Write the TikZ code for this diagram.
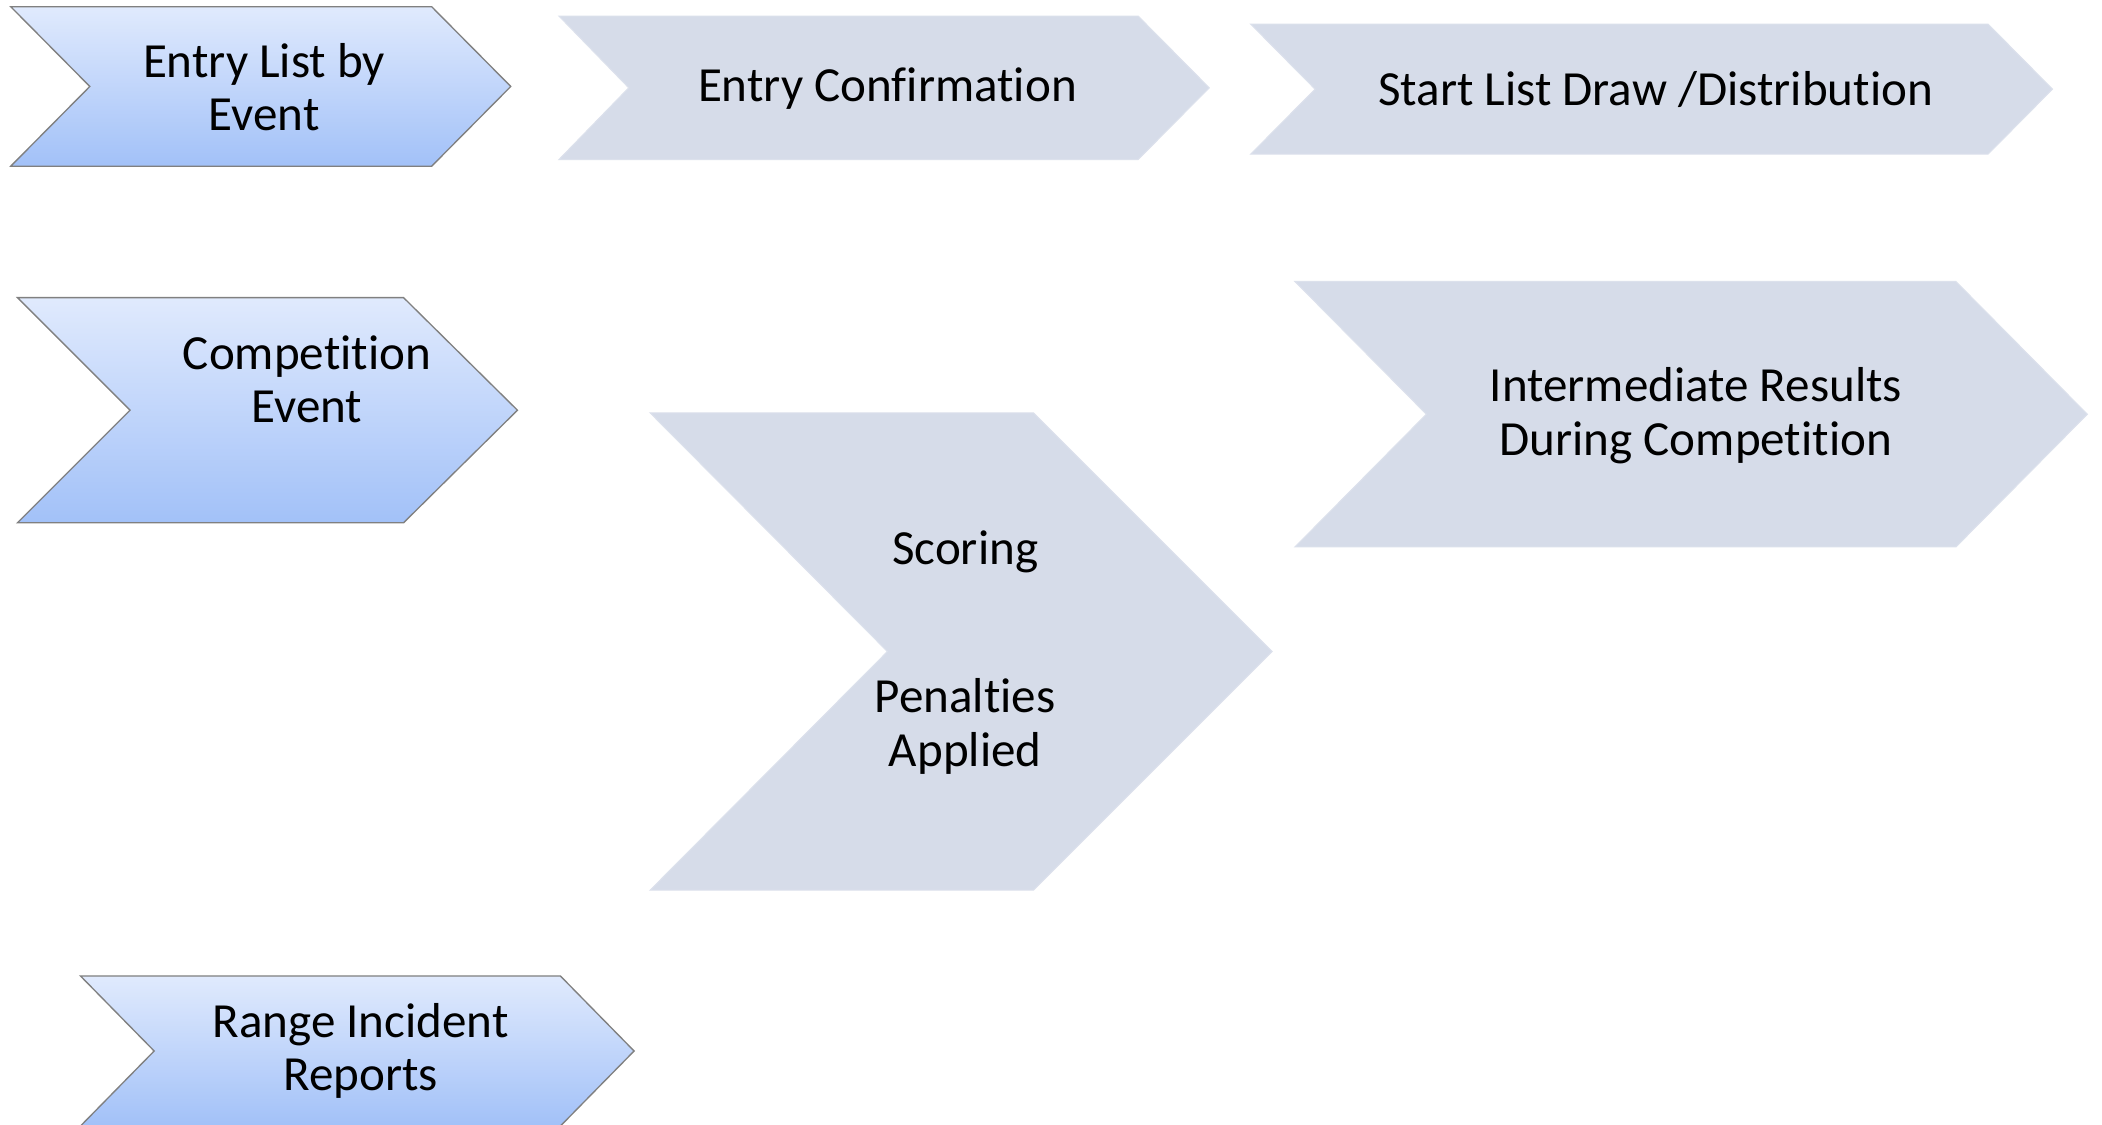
\documentclass[tikz,border=0pt]{standalone}
\usepackage{fontspec}
\setmainfont{Carlito}[RawFeature={-liga;-clig;-calt;-dlig}]
\begin{document}
\begin{tikzpicture}[x=1pt,y=-1pt,
  bluechev/.style={top color=blueTop,bottom color=blueBot,draw=borderGray,line width=1pt,line join=miter},
  graychev/.style={fill=grayFill,draw=grayEdge,line width=0.8pt},
  lbl/.style={inner sep=0pt,align=center,text=black,yshift=-2pt,font=\fontsize{36.6}{40}\selectfont}]
\definecolor{blueTop}{HTML}{E0EAFD}
\definecolor{blueBot}{HTML}{A2C1F8}
\definecolor{borderGray}{HTML}{808080}
\definecolor{grayFill}{HTML}{D6DCE9}
\definecolor{grayEdge}{HTML}{DCE1EC}
\useasboundingbox (0,0) rectangle (1568,839.2);
\clip (0,0) rectangle (1568,839.2);
\fill[white] (0,0) rectangle (1568,839.2);
% Entry List by Event
\path[bluechev] (8,5) -- (322,5) -- (381,64.5) -- (322,124) -- (8,124) -- (67,64.5) -- cycle;
\node[lbl] (entrylist) at (197,63) {Entry List by\\Event};
% Entry Confirmation
\path[graychev] (417,12) -- (849,12) -- (902,65.5) -- (849,119) -- (417,119) -- (469,65.5) -- cycle;
\node[lbl] (entryconf) at (662,64) {Entry Confirmation};
% Start List Draw
\path[graychev] (933,18) -- (1483,18) -- (1531,66.5) -- (1483,115) -- (933,115) -- (981,66.5) -- cycle;
\node[lbl] (startlist) at (1235,65) {Start List Draw /Distribution};
% Competition Event
\path[bluechev] (13,222) -- (301,222) -- (386,306) -- (301,390) -- (13,390) -- (97,306) -- cycle;
\node[lbl] (compevent) at (229,281) {Competition\\Event};
% Scoring
\path[graychev] (485,308) -- (771,308) -- (949,486) -- (771,664) -- (485,664) -- (662,486) -- cycle;
\node[lbl] (scoring) at (720,410) {Scoring};
\node[lbl] (penalties) at (720,540) {Penalties\\Applied};
% Intermediate Results
\path[graychev] (966,210) -- (1459,210) -- (1557,309) -- (1459,408) -- (966,408) -- (1064,309) -- cycle;
\node[lbl] (interres) at (1265,308) {Intermediate Results\\During Competition};
% Range Incident Reports
\path[bluechev] (60,728) -- (418,728) -- (473,784) -- (418,840) -- (60,840) -- (115,784) -- cycle;
\node[lbl] (range) at (269,782) {Range Incident\\Reports};
\end{tikzpicture}
\end{document}
